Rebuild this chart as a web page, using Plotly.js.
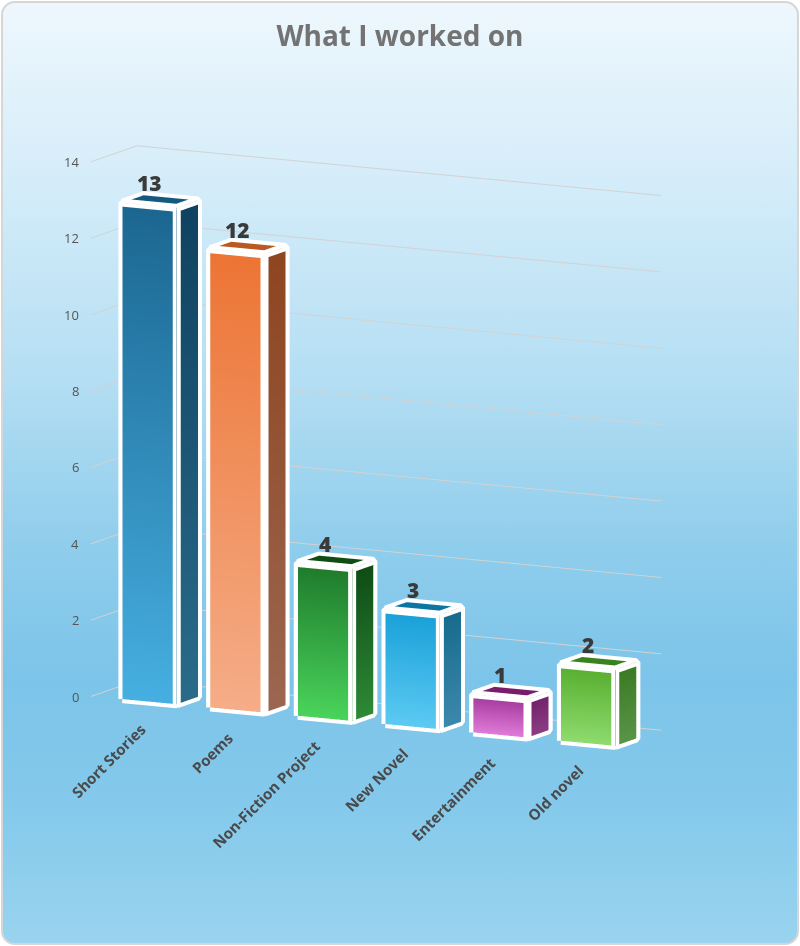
<!DOCTYPE html>
<html>
<head>
<meta charset="utf-8">
<script src="https://cdn.plot.ly/plotly-3.0.1.min.js"></script>
<style>
html,body{margin:0;padding:0;background:#ffffff;}
#card{position:absolute;left:1px;top:1px;width:798px;height:944px;box-sizing:border-box;
border:2px solid #d6d6d6;border-radius:14px;overflow:hidden;
background:linear-gradient(to bottom,#eef7fd 0%,#d3ecf9 20%,#b4def3 40%,#8fcdec 58%,#7cc4e9 72%,#84c9eb 85%,#99d3ef 100%);}
#chart{width:794px;height:940px;}
</style>
</head>
<body>
<div id="card"><div id="chart"></div></div>
<script>
// ---- data ----
const categories = ["Short Stories","Poems","Non-Fiction Project","New Novel","Entertainment","Old novel"];
const values = [13, 12, 4, 3, 1, 2];
const frontTop    = ["#1b6690","#ec7434","#1e7a2b","#18a0d8","#a2389a","#56ae2e"];
const frontBottom = ["#46afe1","#f5ad88","#4ad45b","#5ccaf3","#e07bd8","#8fdb6f"];
const sideTop     = ["#0f4260","#8e4520","#0e4a15","#166a8c","#70206a","#3a7a22"];
const sideBottom  = ["#2a6b8a","#9b6650","#2d8a36","#3c88ac","#8c3d82","#5a9448"];
const topColor    = ["#145a7e","#b85a22","#0f4d14","#0b76a2","#7a1b6c","#3a8220"];
const yTicks = [0, 2, 4, 6, 8, 10, 12, 14];

// ---- geometry settings ----
const W = 0.31;              // half bar width (category units)
const Y0 = 0.02, Y1 = 0.48;  // bar depth span
const XMIN = -0.66, XMAX = 5.32;

const traces = [];
const ex = [], ey = [], ez = [];
function seg(pts){ pts.forEach(p=>{ex.push(p[0]);ey.push(p[1]);ez.push(p[2]);}); ex.push(null);ey.push(null);ez.push(null); }

values.forEach((v,i)=>{
  const x0=i-W, x1=i+W;
  const X=[],Y=[],Z=[],C=[],I=[],J=[],K=[];
  function quad(pts, cols){
    const b=X.length;
    pts.forEach((p,k)=>{X.push(p[0]);Y.push(p[1]);Z.push(p[2]);C.push(cols[k]);});
    I.push(b,b);J.push(b+1,b+2);K.push(b+2,b+3);
  }
  quad([[x0,Y0,0],[x1,Y0,0],[x1,Y0,v],[x0,Y0,v]],[frontBottom[i],frontBottom[i],frontTop[i],frontTop[i]]);
  quad([[x1,Y0,0],[x1,Y1,0],[x1,Y1,v],[x1,Y0,v]],[sideBottom[i],sideBottom[i],sideTop[i],sideTop[i]]);
  quad([[x0,Y0,v],[x1,Y0,v],[x1,Y1,v],[x0,Y1,v]],[topColor[i],topColor[i],topColor[i],topColor[i]]);
  traces.push({type:'mesh3d',x:X,y:Y,z:Z,i:I,j:J,k:K,vertexcolor:C,flatshading:true,
    lighting:{ambient:1,diffuse:0,specular:0,roughness:1,fresnel:0},hoverinfo:'skip',showscale:false});
  seg([[x0,Y0,0],[x1,Y0,0],[x1,Y0,v],[x0,Y0,v],[x0,Y0,0]]);
  seg([[x1,Y0,0],[x1,Y1,0],[x1,Y1,v],[x0,Y1,v],[x0,Y0,v]]);
  seg([[x1,Y1,v],[x1,Y0,v]]);
});
traces.push({type:'scatter3d',mode:'lines',x:ex,y:ey,z:ez,line:{color:'#ffffff',width:16},hoverinfo:'skip',showlegend:false});

const annotations = [];
values.forEach((v,i)=>{
  annotations.push({x:i,y:Y0,z:v,text:String(v),showarrow:false,yshift:22,
    font:{family:'Open Sans, sans-serif',size:21,color:'#3a3a3a',weight:800}});
  annotations.push({x:i,y:Y0,z:0,text:categories[i],showarrow:false,textangle:-45,
    xanchor:'right',yanchor:'top',xshift:2,yshift:-15,
    font:{family:'Open Sans, sans-serif',size:15,color:'#4a4a4a',weight:700}});
});
yTicks.forEach(t=>{
  annotations.push({x:XMIN,y:0,z:t,text:String(t),showarrow:false,xanchor:'right',xshift:-10,
    font:{family:'Open Sans, sans-serif',size:13,color:'#555555'}});
});

const hidden = {showgrid:false,zeroline:false,showline:false,showticklabels:false,showbackground:false,
  showspikes:false,ticks:'',title:{text:''}};
const layout = {
  width:794,height:940,
  paper_bgcolor:'rgba(0,0,0,0)',plot_bgcolor:'rgba(0,0,0,0)',
  margin:{l:0,r:0,t:0,b:0},
  title:{text:'What I worked on',x:0.5,xanchor:'center',y:0.965,yanchor:'middle',
    font:{family:'Open Sans, sans-serif',size:28,color:'#737373',weight:700}},
  showlegend:false,
  scene:{
    domain:{x:[0,1],y:[0,1]},
    xaxis:Object.assign({},hidden,{range:[XMIN,XMAX]}),
    yaxis:Object.assign({},hidden,{range:[0,1]}),
    zaxis:Object.assign({},hidden,{range:[0,14],showgrid:true,gridcolor:'#d2d2d2',gridwidth:2,tickvals:yTicks}),
    aspectmode:'manual',aspectratio:{x:1.258,y:0.212,z:1.157},
    camera:{eye:{x:0.854,y:-1.529,z:0.266},center:{x:0.050,y:0.0144,z:-0.0564},up:{x:0,y:0,z:1},
      projection:{type:'orthographic'}},
    annotations:annotations,
    dragmode:false
  },
  hovermode:false
};
Plotly.newPlot('chart',traces,layout,{displayModeBar:false});
</script>
</body>
</html>
